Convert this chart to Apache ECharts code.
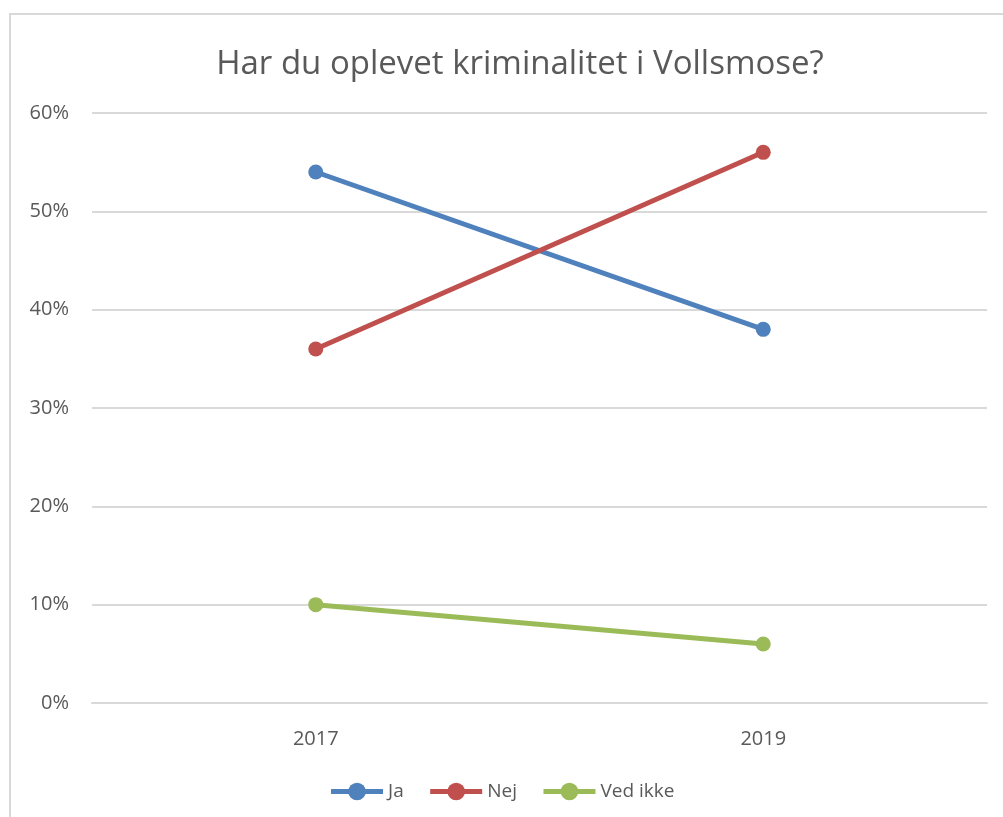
<!DOCTYPE html>
<html style="height: 100%">
   <head>
       <meta charset="utf-8">
   </head>
   <body style="height: 100%; margin: 0; background: #fff">
       <div id="container" style="height: 817px; width: 1003px;"></div>
       <script type="text/javascript" src="https://cdn.jsdelivr.net/npm/echarts@6/dist/echarts.min.js"></script>
       <script type="text/javascript">
        var years = ['2017', '2019'];
        var ja = [54, 38];
        var nej = [36, 56];
        var vedIkke = [10, 6];

        var font = 'Open Sans';
        var textColor = '#595959';

        function lineSeries(name, data, color) {
            return {
                name: name,
                type: 'line',
                data: data,
                symbol: 'circle',
                symbolSize: 15,
                lineStyle: { width: 5, color: color },
                itemStyle: { color: color },
                emphasis: { disabled: true }
            };
        }

        var dom = document.getElementById("container");
        var myChart = echarts.init(dom);
        var option = {
            animation: false,
            graphic: [{
                type: 'rect',
                shape: { x: 10, y: 14, width: 1010, height: 820 },
                style: { fill: 'none', stroke: '#d9d9d9', lineWidth: 2 },
                silent: true
            }],
            title: {
                text: 'Har du oplevet kriminalitet i Vollsmose?',
                left: 515,
                top: 43,
                textAlign: 'center',
                textStyle: { fontFamily: font, fontSize: 33, fontWeight: 'normal', color: textColor }
            },
            legend: {
                data: ['Ja', 'Nej', 'Ved ikke'],
                left: 'center',
                top: 777,
                itemWidth: 52,
                itemHeight: 22,
                itemGap: 24,
                itemStyle: { borderWidth: 0 },
                lineStyle: { width: 5 },
                textStyle: { fontFamily: font, fontSize: 19, color: textColor }
            },
            grid: { left: 92, right: 16, top: 113, bottom: 114, containLabel: false },
            xAxis: {
                type: 'category',
                data: years,
                boundaryGap: true,
                axisLine: { show: true, lineStyle: { color: '#d9d9d9', width: 2 } },
                axisTick: { show: false },
                axisLabel: { fontFamily: font, fontSize: 20, color: textColor, margin: 26 }
            },
            yAxis: {
                type: 'value',
                min: 0,
                max: 60,
                interval: 10,
                axisLine: { show: false },
                axisTick: { show: false },
                axisLabel: { formatter: '{value}%', fontFamily: font, fontSize: 20, color: textColor, margin: 23 },
                splitLine: { lineStyle: { color: '#d9d9d9', width: 2 } }
            },
            series: [
                lineSeries('Ja', ja, '#4f81bd'),
                lineSeries('Nej', nej, '#c0504d'),
                lineSeries('Ved ikke', vedIkke, '#9bbb59')
            ]
        };

        myChart.setOption(option, true);
       </script>
   </body>
</html>
